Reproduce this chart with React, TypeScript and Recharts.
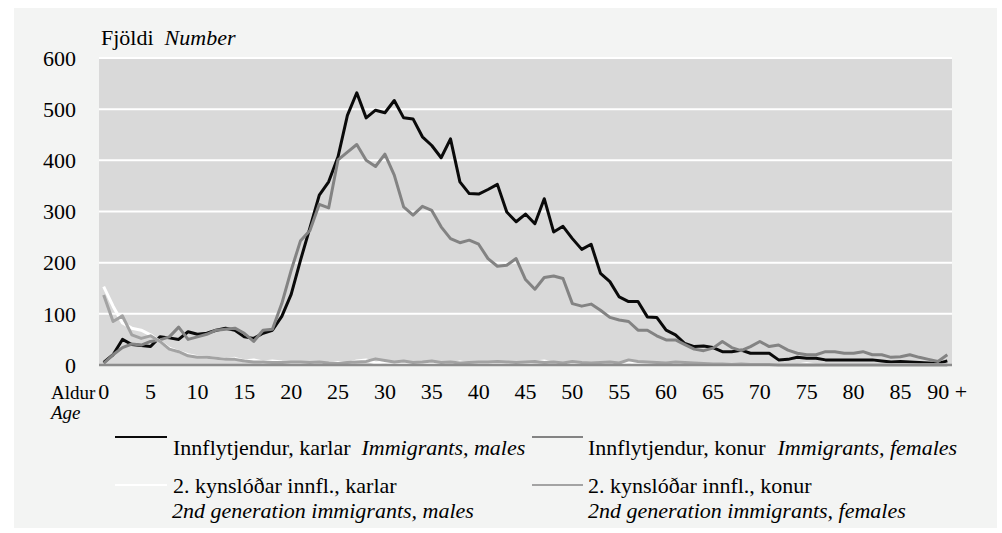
import React from "react";
import { LineChart, Line, XAxis, YAxis, CartesianGrid, ReferenceLine } from "recharts";

const ages = [0,1,2,3,4,5,6,7,8,9,10,11,12,13,14,15,16,17,18,19,20,21,22,23,24,25,26,27,28,29,30,31,32,33,34,35,36,37,38,39,40,41,42,43,44,45,46,47,48,49,50,51,52,53,54,55,56,57,58,59,60,61,62,63,64,65,66,67,68,69,70,71,72,73,74,75,76,77,78,79,80,81,82,83,84,85,86,87,88,89,90];

const tickAges = [0,5,10,15,20,25,30,35,40,45,50,55,60,65,70,75,80,85,90];
const tickLabels = ["0","5","10","15","20","25","30","35","40","45","50","55","60","65","70","75","80","85","90 +"];
const yTicks = [0,100,200,300,400,500,600];

const immigrantsMales = [5,20,50,40,38,36,55,53,50,65,60,62,68,72,68,55,52,62,68,95,138,205,268,332,358,407,488,532,483,498,493,517,483,481,446,429,405,442,358,335,334,343,353,299,280,295,276,325,260,271,247,226,236,179,163,133,124,124,94,93,68,59,42,36,37,34,26,26,29,23,23,23,10,11,15,13,13,10,10,10,10,10,10,8,6,7,6,5,4,3,8];

const immigrantsFemales = [3,20,34,41,39,46,49,55,74,50,55,60,68,70,72,62,46,68,70,120,185,243,263,314,307,401,416,431,400,388,412,371,309,293,310,302,270,247,239,244,236,208,193,195,208,167,148,171,174,169,120,115,119,107,93,88,85,68,68,57,49,49,40,31,28,33,46,34,28,36,46,36,39,29,23,20,20,26,26,23,23,26,20,20,15,16,20,15,11,7,20];

const gen2Males = [153,115,82,72,68,59,46,33,26,20,16,15,13,11,13,8,10,6,8,6,5,3,4,2,3,5,3,8,10,4,6,3,5,2,4,3,5,2,6,3,4,2,3,2,4,3,6,8,3,2,4,3,2,3,5,2,6,3,2,1,2,1,1,0,0,0,0,0,0,0,0,1,0,0,0,3,0,0,0,0,0,0,0,0,0,0,0,0,0,0,0];

const gen2Females = [137,85,96,59,52,57,46,31,26,18,15,15,13,11,11,8,6,6,5,5,6,6,5,6,4,3,5,6,7,12,9,6,8,5,6,8,5,6,4,5,6,6,7,6,5,6,7,5,6,4,7,5,4,5,6,4,10,7,6,5,4,6,5,4,3,2,2,1,2,1,1,1,0,0,0,0,0,0,0,0,0,0,0,0,0,0,0,0,0,0,0];

const data = ages.map((age, i) => ({
  age,
  immMales: immigrantsMales[i],
  immFemales: immigrantsFemales[i],
  g2Males: gen2Males[i],
  g2Females: gen2Females[i],
}));

const FONT = "Liberation Serif, Times New Roman, serif";
const FS = 22;

export default function App() {
  return (
    <div style={{ position: "absolute", left: 0, top: 0, width: 1002, height: 533, background: "#ffffff", overflow: "hidden", fontFamily: FONT }}>
      <div style={{ position: "absolute", left: 14, top: 8, width: 983, height: 520, background: "#f3f4f3" }} />
      <div style={{ position: "absolute", left: 0, top: 0 }}>
        <LineChart width={1002} height={533} data={data} margin={{ top: 58, right: 50, left: 39, bottom: 138 }} style={{ fontFamily: FONT }}>
          <CartesianGrid vertical={false} stroke="#ffffff" strokeWidth={2} fill="#d9d9d9" fillOpacity={1} />
          <XAxis
            dataKey="age"
            type="number"
            domain={[-0.5, 90.5]}
            ticks={tickAges}
            tickFormatter={(v: number) => tickLabels[tickAges.indexOf(v)] ?? String(v)}
            interval={0}
            axisLine={false}
            tickLine={false}
            tickMargin={12}
            height={30}
            tick={{ fill: "#000000", fontSize: FS, fontFamily: FONT }}
          />
          <YAxis
            domain={[0, 600]}
            ticks={yTicks}
            width={60}
            axisLine={false}
            tickLine={false}
            tickMargin={17}
            interval={0}
            tick={{ fill: "#000000", fontSize: FS, fontFamily: FONT }}
          />
          <Line type="linear" dataKey="immMales" stroke="#0a0a0a" strokeWidth={3} dot={false} isAnimationActive={false} strokeLinejoin="round" />
          <Line type="linear" dataKey="immFemales" stroke="#838383" strokeWidth={3} dot={false} isAnimationActive={false} strokeLinejoin="round" />
          <Line type="linear" dataKey="g2Males" stroke="#ffffff" strokeWidth={3} dot={false} isAnimationActive={false} strokeLinejoin="round" />
          <Line type="linear" dataKey="g2Females" stroke="#a3a3a3" strokeWidth={3} dot={false} isAnimationActive={false} strokeLinejoin="round" />
          <ReferenceLine y={0} stroke="#8c8c8c" strokeWidth={2.5} ifOverflow="visible" />
        </LineChart>
      </div>
      <svg width={1002} height={533} style={{ position: "absolute", left: 0, top: 0, pointerEvents: "none" }} fontFamily={FONT} fontSize={FS}>
        <text x={101} y={45} fill="#000">
          <tspan>Fjöldi</tspan>
          <tspan dx={11} fontStyle="italic">Number</tspan>
        </text>
        <text x={51} y={399} fill="#000" fontSize={19}>Aldur</text>
        <text x={51} y={419} fill="#000" fontSize={19} fontStyle="italic">Age</text>

        <line x1={115} y1={437} x2={167} y2={437} stroke="#0a0a0a" strokeWidth={2} />
        <text x={173} y={455} fill="#000">
          <tspan>Innflytjendur, karlar</tspan>
          <tspan dx={11} fontStyle="italic">Immigrants, males</tspan>
        </text>
        <line x1={532} y1={437} x2={583} y2={437} stroke="#838383" strokeWidth={2} />
        <text x={588} y={455} fill="#000">
          <tspan>Innflytjendur, konur</tspan>
          <tspan dx={12} fontStyle="italic">Immigrants, females</tspan>
        </text>

        <line x1={115} y1={485} x2={167} y2={485} stroke="#ffffff" strokeWidth={2} />
        <text x={173} y={493} fill="#000">2. kynslóðar innfl., karlar</text>
        <line x1={532} y1={485} x2={583} y2={485} stroke="#a3a3a3" strokeWidth={2} />
        <text x={588} y={493} fill="#000">2. kynslóðar innfl., konur</text>

        <text x={172} y={518} fill="#000" fontStyle="italic">2nd  generation immigrants, males</text>
        <text x={588} y={518} fill="#000" fontStyle="italic">2nd  generation immigrants, females</text>
      </svg>
    </div>
  );
}
